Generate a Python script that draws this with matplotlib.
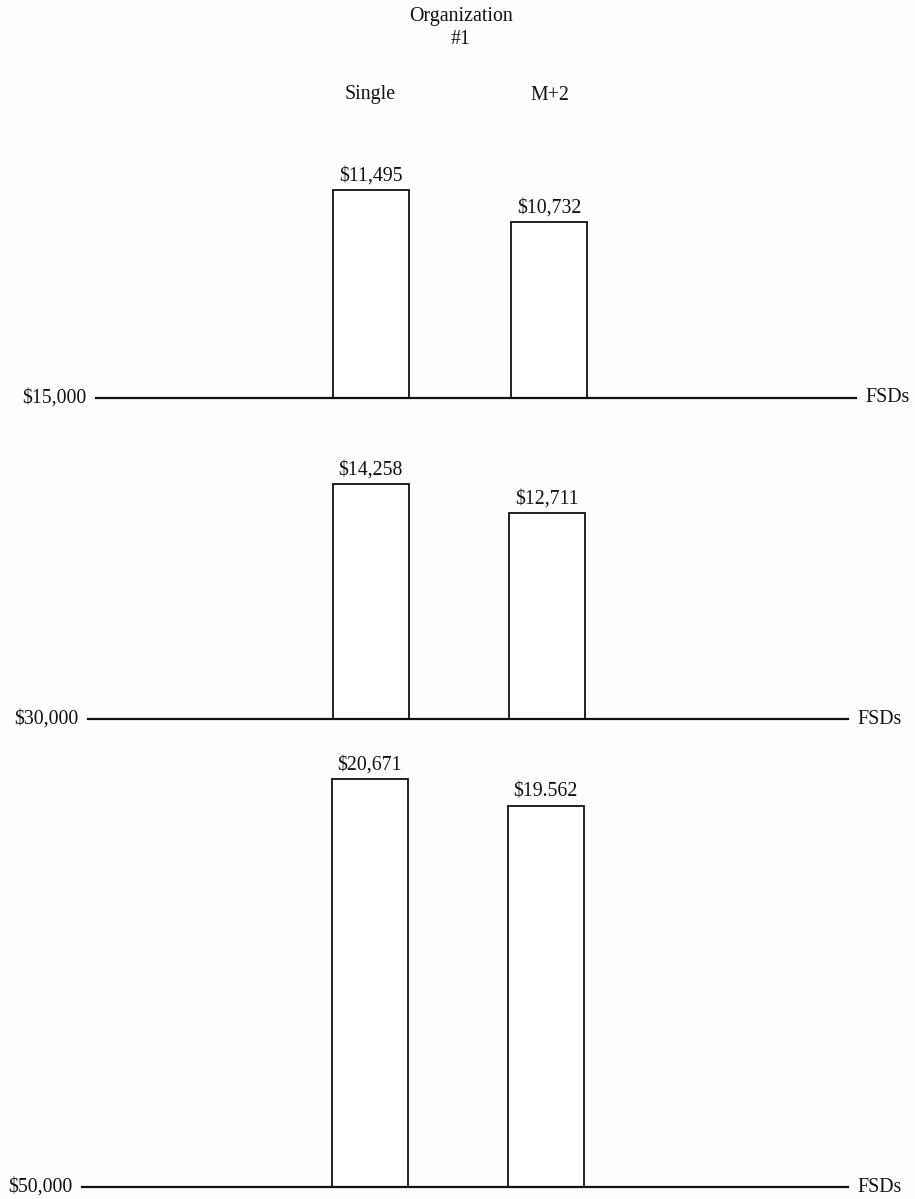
import matplotlib
matplotlib.use("Agg")
import matplotlib.pyplot as plt

plt.rcParams['font.family'] = ['Liberation Serif', 'DejaVu Serif']

# Data
categories = ["Single", "M+2"]
income_levels = ["$15,000", "$30,000", "$50,000"]
single_values = [11495, 14258, 20671]
m2_values = [10732, 12711, 19562]
value_labels_single = ["$11,495", "$14,258", "$20,671"]
value_labels_m2 = ["$10,732", "$12,711", "$19.562"]
axis_label = "FSDs"
title_lines = ["Organization", "#1"]

W, H = 915, 1199
fig = plt.figure(figsize=(W / 100, H / 100), dpi=100)
fig.patch.set_facecolor('#fdfdfd')

# panel geometry in pixels: (line_left, line_right, baseline_y, axis_top_y)
panels = [
    (96, 856, 398, 160),
    (88, 848, 719, 460),
    (82, 848, 1187, 750),
]
# per-panel y-scale (value at baseline, value per pixel) -- the drawing is not to a common scale
scales = [(6545, 23.8), (1732, 53.3), (3902, 41.1)]
# bar centres per panel, pixels
bar_centers_px = [(370.5, 549.0), (370.5, 546.5), (369.5, 545.5)]
bar_width_px = 76
fs = 14.3
ink = '#111111'

for i, ((xl, xr, yb, yt), (v0, vpp)) in enumerate(zip(panels, scales)):
    ax = fig.add_axes([xl / W, 1 - yb / H, (xr - xl) / W, (yb - yt) / H])
    ax.set_facecolor('none')
    ax.set_xlim(xl, xr)
    ax.set_ylim(v0, v0 + vpp * (yb - yt))
    vals = [single_values[i], m2_values[i]]
    labs = [value_labels_single[i], value_labels_m2[i]]
    bars = ax.bar(bar_centers_px[i], [v - v0 for v in vals], bottom=v0, width=bar_width_px,
                  facecolor='white', edgecolor=ink, linewidth=1.3)
    for b, lab in zip(bars, labs):
        ax.annotate(lab, (b.get_x() + b.get_width() / 2, b.get_y() + b.get_height()),
                    xytext=(0, 3), textcoords='offset points', ha='center', va='bottom',
                    fontsize=fs, color=ink)
    for s in ['top', 'right', 'left']:
        ax.spines[s].set_visible(False)
    ax.spines['bottom'].set_linewidth(1.6)
    ax.spines['bottom'].set_color(ink)
    ax.set_xticks([])
    ax.set_yticks([])
    ax.text(-0.013, 0, income_levels[i], transform=ax.transAxes, ha='right', va='center',
            fontsize=fs, color=ink)
    ax.text(1.012, 0, axis_label, transform=ax.transAxes, ha='left', va='center',
            fontsize=fs, color=ink)

fig.text(461 / W, 1 - 17 / H, title_lines[0], ha='center', va='center', fontsize=fs, color=ink)
fig.text(461 / W, 1 - 40 / H, title_lines[1], ha='center', va='center', fontsize=fs, color=ink)
fig.text(370 / W, 1 - 94 / H, categories[0], ha='center', va='center', fontsize=fs, color=ink)
fig.text(550 / W, 1 - 96 / H, categories[1], ha='center', va='center', fontsize=fs, color=ink)

fig.savefig("out.png", dpi=100, facecolor=fig.get_facecolor())
